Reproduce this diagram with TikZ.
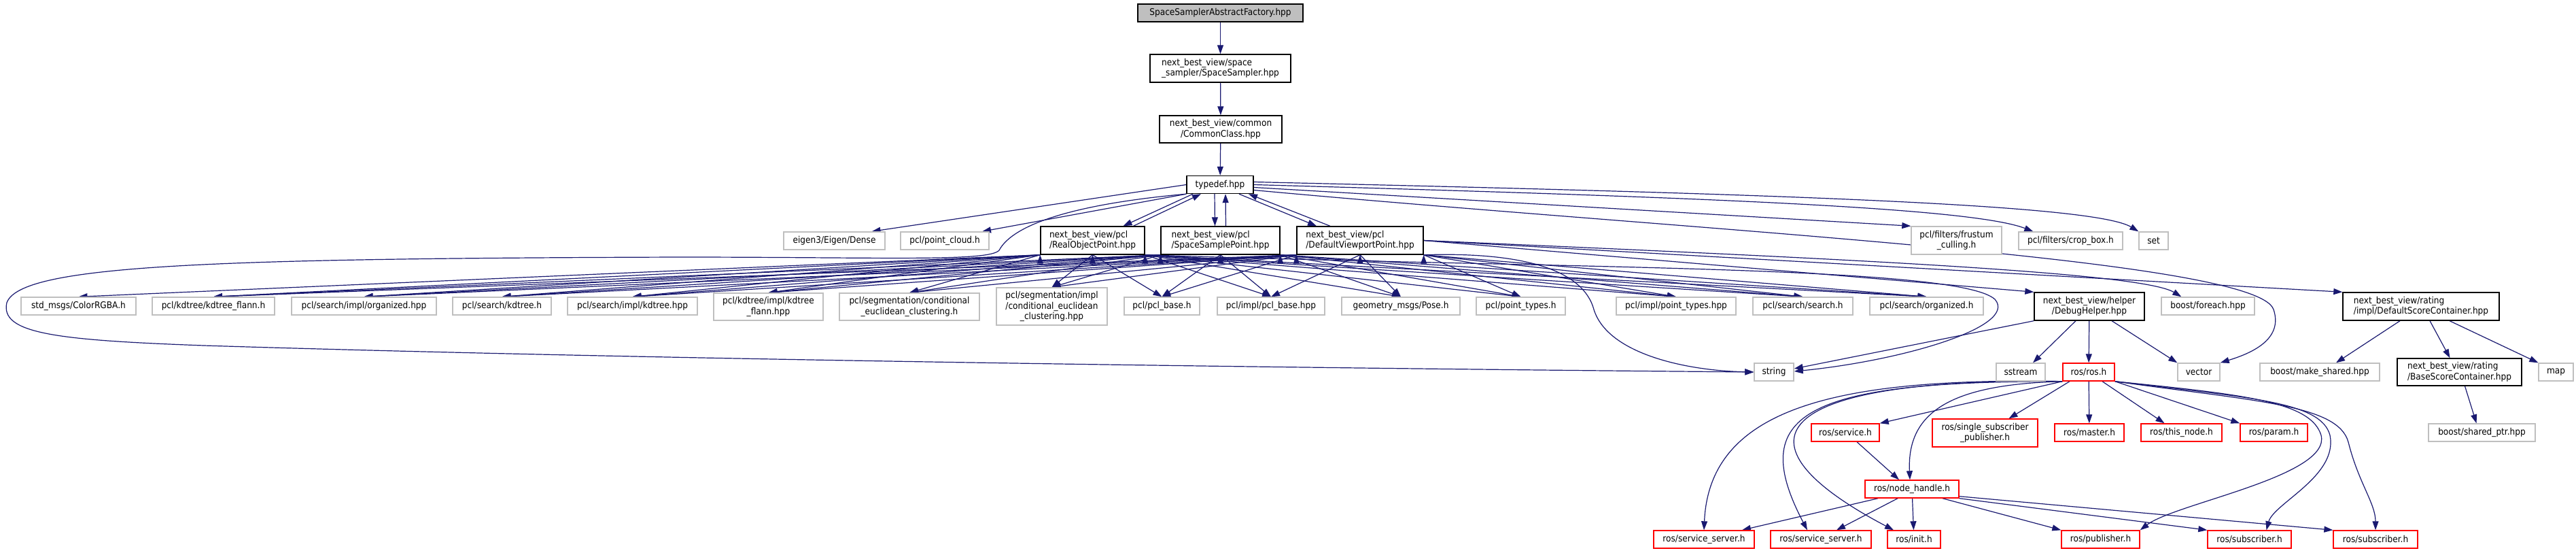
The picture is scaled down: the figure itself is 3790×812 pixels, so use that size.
\documentclass[tikz,border=0pt]{standalone}
\usepackage{fontspec}
\newfontfamily\dxfont{DejaVu Sans}[FakeStretch=0.9]
\usetikzlibrary{arrows.meta,backgrounds}
\definecolor{gray75}{HTML}{BFBFBF}
\definecolor{edgeblue}{HTML}{191970}
\definecolor{truncred}{HTML}{FF0000}

\begin{document}
\begin{tikzpicture}[x=1pt, y=-1pt,
    docfile/.style={draw=black, line width=1.4pt, fill=white, inner sep=0pt,
        minimum height=26pt, font=\dxfont\fontsize{13.5}{15.5}\selectfont},
    rootfile/.style={docfile, fill=gray75},
    sysfile/.style={docfile, draw=gray75},
    rosfile/.style={docfile, draw=truncred},
    dep/.style={edgeblue, line width=1.2pt, -{Triangle[length=13pt, width=9pt]}}]
    \path[use as bounding box] (0,0) rectangle (3790,812);

    % include chain
    \node[rootfile, minimum width=243pt] (root) at (1795.5,19) {SpaceSamplerAbstractFactory.hpp};
    \node[docfile, minimum width=207pt, minimum height=41pt, align=left] (spsampler) at (1795.5,100.5) {next\_best\_view/space\\\_sampler/SpaceSampler.hpp};
    \node[docfile, minimum width=180pt, minimum height=40pt, align=center] (common) at (1796,190) {next\_best\_view/common\\/CommonClass.hpp};
    \node[docfile, minimum width=98pt] (typedef) at (1795,271.5) {typedef.hpp};

    % second row
    \node[sysfile, minimum width=149pt] (eigen) at (1227.5,354) {eigen3/Eigen/Dense};
    \node[sysfile, minimum width=130pt] (pointcloud) at (1390,354) {pcl/point\_cloud.h};
    \node[docfile, minimum width=153pt, minimum height=41pt, align=left] (realobj) at (1607.5,353.5) {next\_best\_view/pcl\\/RealObjectPoint.hpp};
    \node[docfile, minimum width=175pt, minimum height=41pt, align=left] (spacesample) at (1795.5,353.5) {next\_best\_view/pcl\\/SpaceSamplePoint.hpp};
    \node[docfile, minimum width=186pt, minimum height=41pt, align=left] (defaultvp) at (2001,353.5) {next\_best\_view/pcl\\/DefaultViewportPoint.hpp};
    \node[sysfile, minimum width=133pt, minimum height=41pt, align=center] (frustum) at (2878.5,353.5) {pcl/filters/frustum\\\_culling.h};
    \node[sysfile, minimum width=153pt] (cropbox) at (3046.5,354) {pcl/filters/crop\_box.h};
    \node[sysfile, minimum width=43pt] (stdset) at (3168.5,354) {set};

    % third row
    \node[sysfile, minimum width=169pt] (colorrgba) at (115.5,450) {std\_msgs/ColorRGBA.h};
    \node[sysfile, minimum width=180pt] (kdflannh) at (314,450) {pcl/kdtree/kdtree\_flann.h};
    \node[sysfile, minimum width=213pt] (orghpp) at (535.5,450) {pcl/search/impl/organized.hpp};
    \node[sysfile, minimum width=145pt] (kdtreeh) at (738.5,450) {pcl/search/kdtree.h};
    \node[sysfile, minimum width=191pt] (kdtreehpp) at (930.5,450) {pcl/search/impl/kdtree.hpp};
    \node[sysfile, minimum width=161pt, minimum height=40pt, align=center] (kdflannhpp) at (1130.5,451) {pcl/kdtree/impl/kdtree\\\_flann.hpp};
    \node[sysfile, minimum width=206pt, minimum height=40pt, align=center] (ceh) at (1338,451) {pcl/segmentation/conditional\\\_euclidean\_clustering.h};
    \node[sysfile, minimum width=163pt, minimum height=55pt, align=center] (cehpp) at (1547.5,450.5) {pcl/segmentation/impl\\/conditional\_euclidean\\\_clustering.hpp};
    \node[sysfile, minimum width=111pt] (pclbaseh) at (1709.5,450) {pcl/pcl\_base.h};
    \node[sysfile, minimum width=158pt] (pclbasehpp) at (1870,450) {pcl/impl/pcl\_base.hpp};
    \node[sysfile, minimum width=174pt] (pose) at (2061,450) {geometry\_msgs/Pose.h};
    \node[sysfile, minimum width=131pt] (ptypesh) at (2237.5,450) {pcl/point\_types.h};
    \node[sysfile, minimum width=176pt] (ptypeshpp) at (2466,450) {pcl/impl/point\_types.hpp};
    \node[sysfile, minimum width=147pt] (searchh) at (2652.5,450) {pcl/search/search.h};
    \node[sysfile, minimum width=167pt] (organizedh) at (2834.5,450) {pcl/search/organized.h};
    \node[docfile, minimum width=162pt, minimum height=41pt, align=center] (debughelper) at (3074,450.5) {next\_best\_view/helper\\/DebugHelper.hpp};
    \node[sysfile, minimum width=137pt] (foreach) at (3248.5,450) {boost/foreach.hpp};
    \node[docfile, minimum width=230pt, minimum height=41pt, align=left] (defscore) at (3562,450.5) {next\_best\_view/rating\\/impl/DefaultScoreContainer.hpp};

    % fourth row
    \node[sysfile, minimum width=58pt] (string) at (2610,547) {string};
    \node[sysfile, minimum width=72pt] (sstream) at (2973,547) {sstream};
    \node[rosfile, minimum width=76pt] (rosros) at (3073,547) {ros/ros.h};
    \node[sysfile, minimum width=62pt] (vector) at (3235,547) {vector};
    \node[sysfile, minimum width=176pt] (makeshared) at (3413,547) {boost/make\_shared.hpp};
    \node[docfile, minimum width=183pt, minimum height=40pt, align=left] (basescore) at (3618.5,547) {next\_best\_view/rating\\/BaseScoreContainer.hpp};
    \node[sysfile, minimum width=51pt] (stdmap) at (3760.5,547) {map};

    % ros headers
    \node[rosfile, minimum width=100pt] (service) at (2715,636) {ros/service.h};
    \node[rosfile, minimum width=155pt, minimum height=41pt, align=center] (singlesub) at (2920.5,636.5) {ros/single\_subscriber\\\_publisher.h};
    \node[rosfile, minimum width=102pt] (master) at (3074,636) {ros/master.h};
    \node[rosfile, minimum width=119pt] (thisnode) at (3209.5,636) {ros/this\_node.h};
    \node[rosfile, minimum width=99pt] (param) at (3345.5,636) {ros/param.h};
    \node[sysfile, minimum width=157pt] (sharedptr) at (3651.5,636) {boost/shared\_ptr.hpp};
    \node[rosfile, minimum width=138pt] (nodehandle) at (2813,719) {ros/node\_handle.h};
    \node[rosfile, minimum width=148pt] (ssone) at (2507,793) {ros/service\_server.h};
    \node[rosfile, minimum width=148pt] (sstwo) at (2679,793) {ros/service\_server.h};
    \node[rosfile, minimum width=78pt] (init) at (2816,793) {ros/init.h};
    \node[rosfile, minimum width=115pt] (publisher) at (3090.5,793) {ros/publisher.h};
    \node[rosfile, minimum width=123pt] (subone) at (3309.5,793) {ros/subscriber.h};
    \node[rosfile, minimum width=124pt] (subtwo) at (3495,793) {ros/subscriber.h};

    \begin{scope}[on background layer]
        % chain
        \draw[dep] (root) -- (spsampler);
        \draw[dep] (spsampler) -- (common);
        \draw[dep] (common) -- (typedef);

        % typedef.hpp
        \draw[dep] (typedef.west) -- ([xshift=55pt]eigen.north);
        \draw[dep] (typedef.south west) -- ([xshift=55pt]pointcloud.north);
        \draw[dep] ([xshift=-40pt]typedef.south) -- ([xshift=45pt]realobj.north);
        \draw[dep] ([xshift=60pt]realobj.north) -- ([xshift=-28pt]typedef.south);
        \draw[dep] ([xshift=-8pt]typedef.south) -- ([xshift=-8pt]spacesample.north);
        \draw[dep] ([xshift=8pt]spacesample.north) -- ([xshift=8pt]typedef.south);
        \draw[dep] ([xshift=28pt]typedef.south) -- ([xshift=-64pt]defaultvp.north);
        \draw[dep] ([xshift=-44pt]defaultvp.north) -- ([xshift=42pt]typedef.south);
        \draw[dep] ([yshift=-4pt]typedef.east) -- (frustum.north west);
        \draw[dep] (typedef.east) .. controls (2500,290) and (2900,305) .. ([xshift=22pt]cropbox.north west);
        \draw[dep] ([yshift=4pt]typedef.east) .. controls (2600,285) and (3080,300) .. (stdset.north west);
        \draw[dep] ([yshift=-8pt]typedef.east) .. controls (2500,340) and (3320,380) .. (3345,455)
            .. controls (3360,500) and (3310,520) .. (vector.north east);
        \draw[dep] (typedef.south west) .. controls (1580,300) and (1490,330) .. (1470,368)
            .. controls (1455,385) and (1300,378) .. (1000,378)
            .. controls (300,380) and (30,390) .. (10,445)
            .. controls (0,490) and (80,500) .. (300,508)
            .. controls (1000,530) and (2000,542) .. (string.west);

        % RealObjectPoint.hpp
        \draw[dep] (realobj.south west) edge (colorrgba.north) edge (kdflannh.north) edge (orghpp.north)
            edge (kdtreeh.north) edge (kdtreehpp.north) edge (kdflannhpp.north) edge (ceh.north);
        \draw[dep] (realobj.south) edge (cehpp.north) edge (pclbaseh.north);
        \draw[dep] (realobj.south east) edge (pclbasehpp.north) edge (pose.north) edge (ptypesh.north)
            edge (ptypeshpp.north) edge (searchh.north) edge (organizedh.north);
        \draw[dep] (realobj.south east) .. controls (2300,395) and (2880,390) .. (2935,440)
            .. controls (2970,480) and (2800,530) .. ([yshift=1pt]string.east);

        % SpaceSamplePoint.hpp
        \draw[dep] (spacesample.south west) edge (kdflannh.north) edge (orghpp.north) edge (kdtreeh.north)
            edge (kdtreehpp.north) edge (kdflannhpp.north) edge (ceh.north) edge (cehpp.north);
        \draw[dep] (spacesample.south) edge (pclbaseh.north) edge (pclbasehpp.north);
        \draw[dep] (spacesample.south east) edge (pose.north) edge (ptypesh.north) edge (ptypeshpp.north)
            edge (searchh.north) edge (organizedh.north);

        % DefaultViewportPoint.hpp
        \draw[dep] (defaultvp.south west) edge (kdflannh.north) edge (orghpp.north) edge (kdtreeh.north)
            edge (kdtreehpp.north) edge (kdflannhpp.north) edge (ceh.north) edge (cehpp.north) edge (pclbaseh.north);
        \draw[dep] (defaultvp.south) edge (pclbasehpp.north) edge (pose.north);
        \draw[dep] (defaultvp.south east) edge (ptypesh.north) edge (ptypeshpp.north) edge (searchh.north)
            edge (organizedh.north);
        \draw[dep] (defaultvp.east) -- (debughelper.north west);
        \draw[dep] (defaultvp.east) .. controls (2700,380) and (3150,400) .. ([xshift=30pt]foreach.north west);
        \draw[dep] (defaultvp.east) -- (defscore.north west);
        \draw[dep] (defaultvp.south east) .. controls (2250,370) and (2330,400) .. (2345,455)
            .. controls (2365,520) and (2480,545) .. (string.west);

        % DebugHelper.hpp
        \draw[dep] ([xshift=-20pt]debughelper.south) -- ([xshift=18pt]sstream.north);
        \draw[dep] (debughelper) -- (rosros);
        \draw[dep] ([xshift=33pt]debughelper.south) -- (vector.north west);
        \draw[dep] (debughelper.south west) -- ([yshift=5pt]string.east);

        % DefaultScoreContainer.hpp
        \draw[dep] ([xshift=-31pt]defscore.south) -- ([xshift=24pt]makeshared.north);
        \draw[dep] ([xshift=13pt]defscore.south) -- ([xshift=-14pt]basescore.north);
        \draw[dep] ([xshift=42pt]defscore.south) -- (stdmap.north west);
        \draw[dep] ([xshift=8pt]basescore.south) -- ([xshift=-8pt]sharedptr.north);

        % ros/ros.h
        \draw[dep] (rosros.south west) -- (service.north east);
        \draw[dep] ([xshift=-28pt]rosros.south) -- ([xshift=35pt]singlesub.north);
        \draw[dep] (rosros) -- (master);
        \draw[dep] ([xshift=20pt]rosros.south) -- ([xshift=-25pt]thisnode.north);
        \draw[dep] (rosros.south east) -- (param.north west);
        \draw[dep] (rosros.south west) .. controls (2880,565) and (2805,600) .. ([xshift=-3pt]nodehandle.north);
        \draw[dep] (rosros.south west) .. controls (2700,555) and (2515,600) .. (ssone.north);
        \draw[dep] (rosros.south west) .. controls (2650,560) and (2570,610) .. ([xshift=-20pt]sstwo.north);
        \draw[dep] (rosros.south west) .. controls (2600,555) and (2540,650) .. ([xshift=-30pt]init.north);
        \draw[dep] (rosros.south east) .. controls (3300,580) and (3400,590) .. (3415,640)
            .. controls (3430,700) and (3200,740) .. (publisher.north east);
        \draw[dep] (rosros.south east) .. controls (3310,585) and (3415,590) .. (3428,640)
            .. controls (3440,700) and (3345,740) .. ([xshift=25pt]subone.north);
        \draw[dep] (rosros.south east) .. controls (3320,590) and (3440,595) .. (3455,650)
            .. controls (3470,710) and (3495,740) .. (subtwo.north);

        % ros/service.h, ros/node_handle.h
        \draw[dep] ([xshift=17pt]service.south) -- ([xshift=-19pt]nodehandle.north);
        \draw[dep] ([xshift=-50pt]nodehandle.south) -- ([xshift=56pt]ssone.north);
        \draw[dep] ([xshift=-21pt]nodehandle.south) -- ([xshift=23pt]sstwo.north);
        \draw[dep] (nodehandle) -- (init);
        \draw[dep] ([xshift=45pt]nodehandle.south) -- (publisher.north west);
        \draw[dep] (nodehandle.south east) -- (subone.north west);
        \draw[dep] ([yshift=3pt]nodehandle.south east) -- (subtwo.north west);
    \end{scope}
\end{tikzpicture}
\end{document}
